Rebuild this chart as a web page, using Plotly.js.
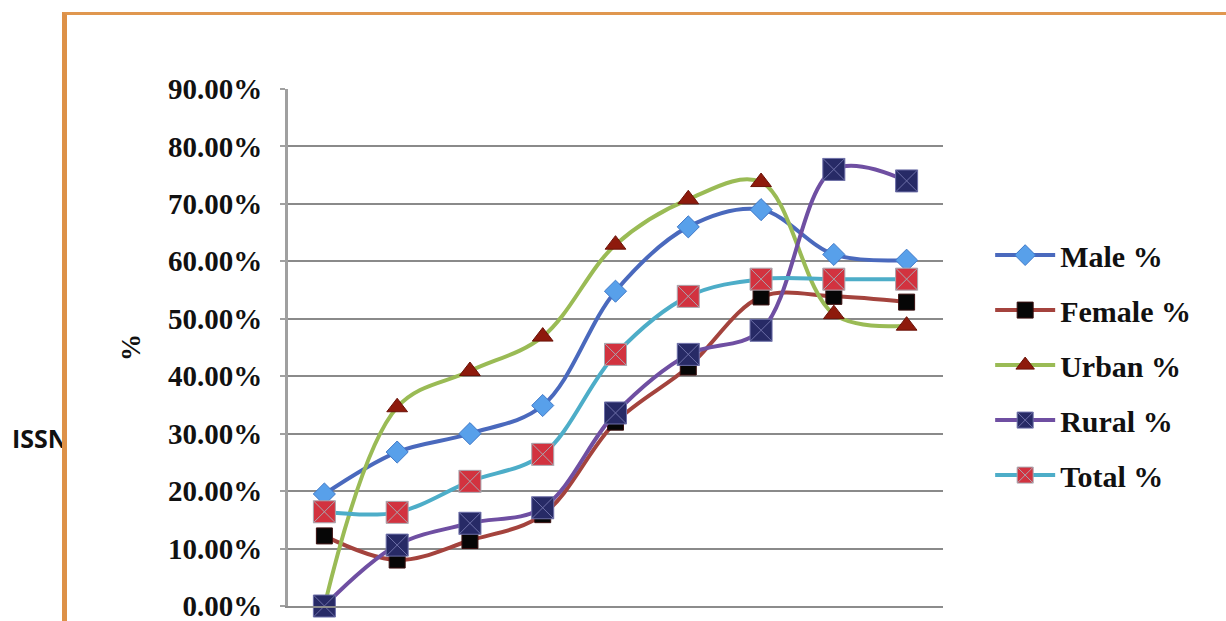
<!DOCTYPE html>
<html>
<head>
<meta charset="utf-8">
<script src="https://cdn.plot.ly/plotly-3.0.1.min.js"></script>
<style>
  html, body { margin: 0; padding: 0; background: #ffffff; overflow: hidden; width: 1226px; height: 621px; }
  #issn { position: absolute; left: 12px; top: 421px; font-family: "Open Sans", sans-serif; font-weight: 700; font-size: 25px; color: #111; z-index: 1; }
  #frame { position: absolute; left: 62px; top: 12px; width: 1200px; height: 700px; background: #ffffff;
           border-left: 5px solid #dd9148; border-top: 3px solid #e0974f; z-index: 2; }
  #chart { position: absolute; left: 0; top: 0; width: 1226px; height: 640px; z-index: 3; }
</style>
</head>
<body>
<div id="issn">ISSN</div>
<div id="frame"></div>
<div id="chart"></div>
<script>
// Data (percent values)
const categories = ['1', '2', '3', '4', '5', '6', '7', '8', '9'];
const malePct   = [19.5, 26.8, 30.0, 34.9, 54.8, 66.0, 69.0, 61.2, 60.2];
const femalePct = [12.2,  8.0, 11.4, 15.9, 32.0, 41.6, 53.8, 53.9, 52.9];
const urbanPct  = [ 0.0, 34.6, 40.9, 46.9, 62.9, 70.8, 73.8, 50.8, 48.8];
const ruralPct  = [ 0.0, 10.6, 14.4, 17.1, 33.6, 43.8, 48.0, 76.0, 74.0];
const totalPct  = [16.4, 16.3, 21.7, 26.4, 43.8, 53.9, 56.9, 56.9, 56.9];
const seriesNames = ['Male %', 'Female %', 'Urban %', 'Rural %', 'Total %'];
const yTicks = [0, 10, 20, 30, 40, 50, 60, 70, 80, 90];
const yTickText = yTicks.map(v => v.toFixed(2) + '%');

const serif = '"Liberation Serif", "Times New Roman", serif';

function mk(name, y, lineColor, symbol, mColor, mLine, size, group) {
  return {
    type: 'scatter', mode: 'lines+markers', name: name, x: categories, y: y,
    legendgroup: group, cliponaxis: false,
    line: { color: lineColor, width: 4, shape: 'spline', smoothing: 1 },
    marker: { symbol: symbol, color: mColor, size: size, line: { color: mLine, width: 1 } }
  };
}

const traces = [
  mk(seriesNames[0], malePct,   '#4a69bd', 'diamond',  '#58a0ea', '#3f78c8', 17, 'g1'),
  mk(seriesNames[1], femalePct, '#a4433d', 'square',   '#060606', '#3a1010', 16, 'g2'),
  mk(seriesNames[2], urbanPct,  '#9abb55', 'triangle-up', '#8e1a0c', '#6a1208', 18, 'g3'),
  mk(seriesNames[3], ruralPct,  '#6f4fa2', 'square-x', '#272a66', '#6d6fa8', 22, 'g4'),
  mk(seriesNames[4], totalPct,  '#4dadc8', 'square-x', '#d2323f', '#a8a8b0', 22, 'g5')
];

const layout = {
  width: 1226, height: 640,
  margin: { l: 288, r: 283, t: 89, b: 34 },
  paper_bgcolor: 'rgba(0,0,0,0)', plot_bgcolor: 'rgba(0,0,0,0)',
  showlegend: true,
  xaxis: {
    type: 'category', range: [-0.5, 8.5], showticklabels: false, showgrid: false, zeroline: false,
    showline: true, linecolor: '#8c8c8c', linewidth: 2, fixedrange: true
  },
  yaxis: {
    range: [0, 90], tickmode: 'array', tickvals: yTicks, ticktext: yTickText,
    showgrid: true, gridcolor: '#8a8a8a', gridwidth: 2, zeroline: false,
    showline: true, linecolor: '#a0a0a0', linewidth: 3,
    ticks: 'outside', ticklen: 5, tickcolor: '#a0a0a0', tickwidth: 2,
    ticklabelstandoff: 12, ticklabeloverflow: 'allow',
    tickfont: { family: serif, size: 29, color: '#111111', weight: 700 },
    title: { text: '%', standoff: 20, font: { family: serif, size: 27, color: '#111111', weight: 700 } }
  },
  legend: {
    x: 1.072, xanchor: 'left', y: 0.729, yanchor: 'top',
    font: { family: serif, size: 30, color: '#111111', weight: 700 },
    tracegroupgap: 13, itemwidth: 60, bgcolor: 'rgba(0,0,0,0)'
  }
};

Plotly.newPlot('chart', traces, layout, { displayModeBar: false, staticPlot: true });
</script>
</body>
</html>
